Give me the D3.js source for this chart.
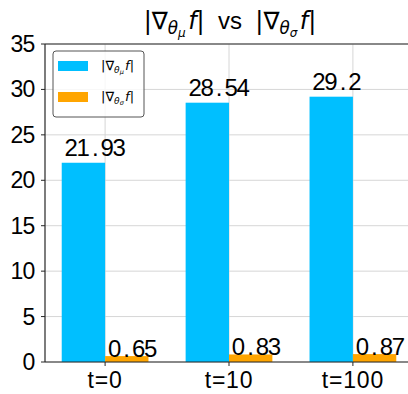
<!DOCTYPE html>
<html><head><meta charset="utf-8">
<script src="https://cdn.jsdelivr.net/npm/d3@7"></script>
<style>html,body{margin:0;padding:0;background:#fff;}svg{display:block;}</style>
</head><body>
<script>
const categories = ["t=0", "t=10", "t=100"];
const muValues = [21.93, 28.54, 29.2];
const sigmaValues = [0.65, 0.83, 0.87];
const muLabels = ["21.93", "28.54", "29.2"];
const sigmaLabels = ["0.65", "0.83", "0.87"];
const yTicks = [0, 5, 10, 15, 20, 25, 30, 35];

const W = 408, H = 394;
const svg = d3.select("body").append("svg").attr("width", W).attr("height", H);
const x = d3.scaleLinear().domain([-0.485, 2.485]).range([45, 413]);
const y = d3.scaleLinear().domain([0, 35]).range([362, 44]);
const bw = 0.35;
const FONT = "'Liberation Sans',Arial,sans-serif";
const CELL = 12;

// monospace-like text: each glyph centered in a half-em cell
function cellText(g, str, x0, yb, anchor, fs) {
  const n = str.length;
  let start = anchor === "end" ? x0 - n * CELL : anchor === "middle" ? x0 - n * CELL / 2 : x0;
  const t = g.append("text").attr("y", yb).attr("font-family", FONT).attr("font-size", fs).attr("fill", "#000");
  str.split("").forEach((c, i) => {
    t.append("tspan").attr("x", start + i * CELL + CELL / 2).attr("text-anchor", "middle").text(c);
  });
  return t;
}

// grid
const grid = svg.append("g").attr("stroke", "#d6d6d6").attr("stroke-width", 1);
yTicks.forEach(v => grid.append("line").attr("x1", 45).attr("x2", 413).attr("y1", y(v)).attr("y2", y(v)));
categories.forEach((c, i) => grid.append("line").attr("x1", x(i)).attr("x2", x(i)).attr("y1", 44).attr("y2", 362));

// bars
svg.append("g").selectAll("rect").data(muValues).join("rect")
  .attr("x", (d, i) => x(i - bw)).attr("width", (d, i) => x(i) - x(i - bw))
  .attr("y", d => y(d)).attr("height", d => y(0) - y(d)).attr("fill", "#00BFFF");
svg.append("g").selectAll("rect").data(sigmaValues).join("rect")
  .attr("x", (d, i) => x(i)).attr("width", (d, i) => x(i + bw) - x(i))
  .attr("y", d => y(d)).attr("height", d => y(0) - y(d)).attr("fill", "#FFA500");

// value labels
const lab = svg.append("g");
muValues.forEach((v, i) => cellText(lab, muLabels[i], x(i - bw) + 3.5, y(v) - 7, "start", 24));
sigmaValues.forEach((v, i) => cellText(lab, sigmaLabels[i], x(i) + 3.5, y(v) + 1, "start", 24));

// spines
const sp = svg.append("g").attr("stroke", "#262626").attr("stroke-width", 1.2).attr("fill", "none");
sp.append("line").attr("x1", 45).attr("x2", 45).attr("y1", 44).attr("y2", 362);
sp.append("line").attr("x1", 45).attr("x2", 413).attr("y1", 362).attr("y2", 362);
sp.append("line").attr("x1", 45).attr("x2", 413).attr("y1", 44).attr("y2", 44);

// axes ticks
const ax = svg.append("g");
yTicks.forEach(v => {
  ax.append("line").attr("x1", 41).attr("x2", 45).attr("y1", y(v)).attr("y2", y(v)).attr("stroke", "#262626");
  cellText(ax, String(v), 35, y(v) + 8, "end", 23);
});
categories.forEach((c, i) => {
  ax.append("line").attr("x1", x(i)).attr("x2", x(i)).attr("y1", 362).attr("y2", 366).attr("stroke", "#262626");
  ax.append("text").attr("x", x(i)).attr("y", 388).attr("text-anchor", "middle")
    .attr("font-family", FONT).attr("font-size", 23).attr("letter-spacing", 0.8).attr("fill", "#000").text(c);
});

function addMath(t, sub, fs) {
  t.append("tspan").attr("font-style", "normal").attr("font-size", fs).text("|∇");
  t.append("tspan").attr("font-style", "italic").attr("font-size", fs * 0.7).attr("dy", fs * 0.22).text("θ");
  t.append("tspan").attr("font-style", "italic").attr("font-size", fs * 0.5).attr("dy", fs * 0.12).text(sub);
  t.append("tspan").attr("font-style", "italic").attr("font-size", fs).attr("dy", -fs * 0.34).attr("dx", fs * 0.1).text("f");
  t.append("tspan").attr("font-style", "normal").attr("font-size", fs).text("|");
}

// title
const tt = svg.append("g").append("text").attr("x", 230).attr("y", 29)
  .attr("font-family", "'DejaVu Sans',sans-serif").attr("text-anchor", "middle").attr("fill", "#000");
addMath(tt, "μ", 24);
tt.append("tspan").attr("font-family", FONT).attr("font-size", 24).text("\u00a0\u00a0vs\u00a0\u00a0");
addMath(tt, "σ", 24);

// legend
const lg = svg.append("g");
lg.append("rect").attr("x", 53).attr("y", 51).attr("width", 91).attr("height", 66).attr("rx", 3)
  .attr("fill", "#fff").attr("fill-opacity", 0.8).attr("stroke", "#555").attr("stroke-width", 1);
[["μ", "#00BFFF", 61], ["σ", "#FFA500", 92]].forEach(([s, col, yy]) => {
  lg.append("rect").attr("x", 58).attr("y", yy).attr("width", 30).attr("height", 10).attr("fill", col);
  const t = lg.append("text").attr("x", 101).attr("y", yy + 9)
    .attr("font-family", "'DejaVu Sans',sans-serif").attr("fill", "#000");
  addMath(t, s, 13);
});
</script>
</body></html>
